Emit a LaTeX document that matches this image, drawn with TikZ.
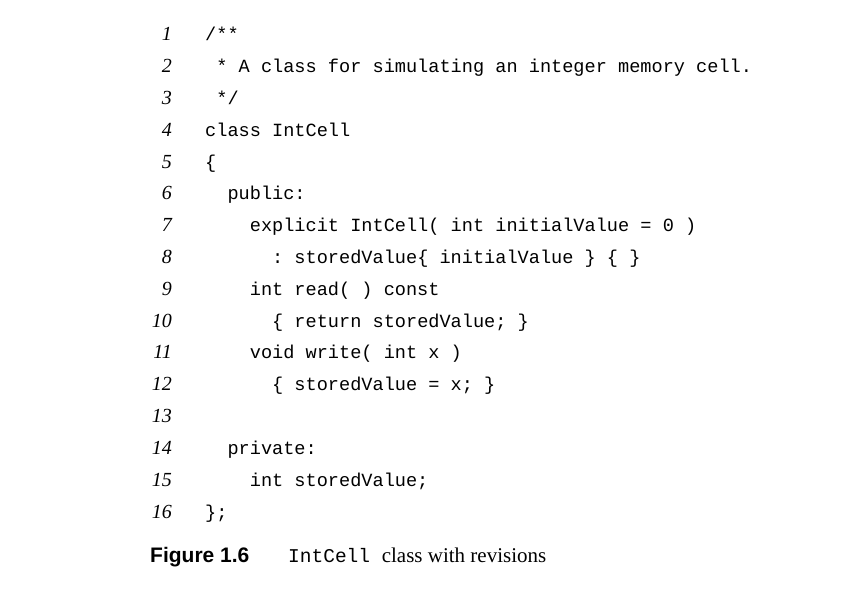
\documentclass[tikz,border=0pt]{standalone}
\usepackage{fontspec}
\setmainfont{Liberation Serif}
\setmonofont{Liberation Mono}
\setsansfont{Liberation Sans}
\begin{document}
\begin{tikzpicture}[x=1pt,y=-1pt,
  num/.style={anchor=base east,inner sep=0,font=\fontsize{20}{20}\selectfont\itshape},
  code/.style={anchor=base west,inner sep=0,font=\fontsize{18.6}{20}\selectfont\ttfamily}]
\useasboundingbox[fill=white] (0,0) rectangle (844,604);
\foreach \t [count=\i] in {
 {/**},
 {\ * A class for simulating an integer memory cell.},
 {\ */},
 {class IntCell},
 {\{},
 {\ \ public:},
 {\ \ \ \ explicit IntCell( int initialValue = 0 )},
 {\ \ \ \ \ \ : storedValue\{ initialValue \} \{ \}},
 {\ \ \ \ int read( ) const},
 {\ \ \ \ \ \ \{ return storedValue; \}},
 {\ \ \ \ void write( int x )},
 {\ \ \ \ \ \ \{ storedValue = x; \}},
 {},
 {\ \ private:},
 {\ \ \ \ int storedValue;},
 {\};}} {
  \pgfmathsetmacro\yy{41+31.8*(\i-1)}
  \node[num] (n\i) at (172,\yy) {\i};
  \node[code] (c\i) at (205,\yy) {\strut\t};
}
\node[anchor=base west,inner sep=0,font=\fontsize{21}{22}\selectfont\sffamily\bfseries] (fig) at (150,562) {Figure 1.6};
\node[anchor=base west,inner sep=0] (cap) at (288,562) {\fontsize{19.5}{22}\selectfont\ttfamily IntCell\ \fontsize{21}{22}\rmfamily class with revisions};
\end{tikzpicture}
\end{document}
